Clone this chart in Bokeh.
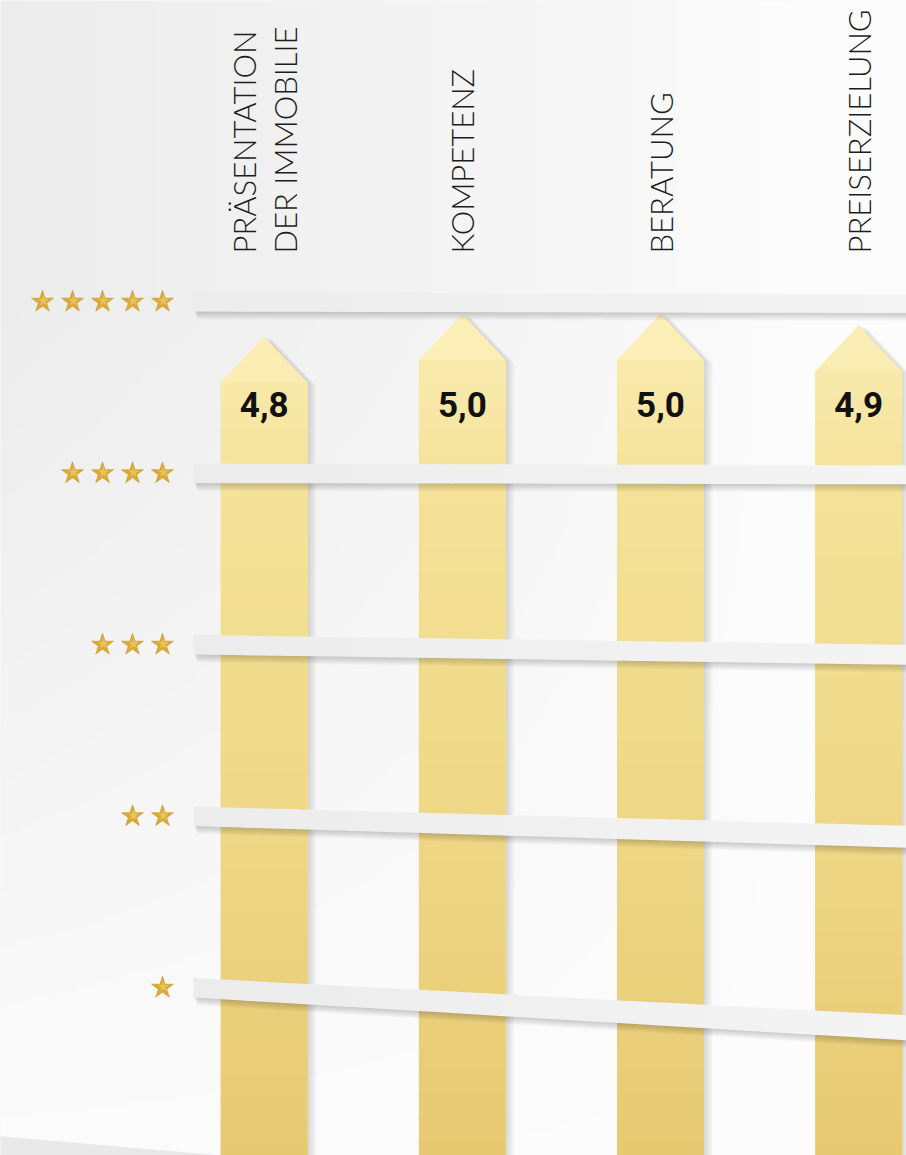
import numpy as np
from bokeh.plotting import figure
from bokeh.models import Range1d
from bokeh.core.properties import value
from bokeh.embed import file_html
from bokeh.resources import INLINE

# ---------------- data ----------------
categories = ["PRÄSENTATION\nDER IMMOBILIE", "KOMPETENZ", "BERATUNG", "PREISERZIELUNG"]
scores = [4.8, 5.0, 5.0, 4.9]
score_labels = ["4,8", "5,0", "5,0", "4,9"]
star_levels = [5, 4, 3, 2, 1]

# ---------------- layout constants (page px) ----------------
W, H = 906, 1155
PAGE = 0
X0_PX, PX_X = 263.7, 198.15     # page x of first category, px per category step
S5_PX, PX_S = 301.3, 171.5      # page y of 5-star rail, px per star level
P5_PX, PX_P = 313.5, 112.5      # page y of a 5.0 picket tip, px per score point

RAIL_LEFT_PX = 193
RAIL_TILT_PX = {5: 2.0, 4: 1.5, 3: 10.0, 2: 20.5, 1: 40.0}      # perspective drop at right edge
RAIL_THICK_L_PX = 19.5
RAIL_THICK_R_PX = {5: 18.5, 4: 19.0, 3: 20.0, 2: 22.0, 1: 25.0}
PICKET_HALF_PX = 43.5
ROOF_PX = 46


def ux(px):
    return px / PX_X


def us(px):
    return px / PX_S


def up(px):
    return px / PX_P


def x_of(X):
    return (X - X0_PX) / PX_X


def s_of(Y):
    return 5 - (Y - S5_PX) / PX_S


def pageY_of_p(v):
    return P5_PX + (5 - v) * PX_P


x_range = Range1d(x_of(PAGE), x_of(PAGE + W))
y_range = Range1d(s_of(PAGE + H), s_of(PAGE))
p_range = Range1d(5 - (PAGE + H - P5_PX) / PX_P, 5 + (P5_PX - PAGE) / PX_P)

p = figure(width=W, height=H, x_range=x_range, y_range=y_range,
           x_axis_type=None, y_axis_type=None, toolbar_location=None,
           output_backend="svg", min_border=0, outline_line_color=None,
           background_fill_color="#f3f3f3", border_fill_color="#f3f3f3")
p.extra_y_ranges = {"picket": p_range}

# ---------------- background gradient ----------------
step = 5
nx, ny = W // step + 1, H // step + 1
Xs = PAGE + (np.arange(nx) + 0.5) * step
Ys = PAGE + H - (np.arange(ny) + 0.5) * step
XX, YY = np.meshgrid(Xs, Ys)
fx = np.clip(1 - XX / 800, 0, 1) ** 0.8
fy = np.clip(1 - (YY - 300) / 900, 0, 1)
g = np.clip(np.round(252 - 16 * fx * fy), 0, 255).astype(np.uint32)
img = (np.uint32(255) << 24) | (g << 16) | (g << 8) | g
p.image_rgba(image=[img], x=x_range.start, y=y_range.start,
             dw=x_range.end - x_range.start, dh=y_range.end - y_range.start)

# floor edge, bottom left
fxs = [x_of(PAGE - 2), x_of(250), x_of(250), x_of(PAGE - 2)]
fys = [s_of(1135.5), s_of(1157.5), s_of(1170), s_of(1170)]
p.patch(fxs, fys, fill_color="#e9e9e9", line_color=None)

# ---------------- pickets ----------------
hw = ux(PICKET_HALF_PX)
roof = up(ROOF_PX)
p_bottom = p_range.start - 0.3

pk_xs, pk_ys = [], []
for i, v in enumerate(scores):
    pk_xs.append([i - hw, i - hw, i, i + hw, i + hw])
    pk_ys.append([p_bottom, v - roof, v, v - roof, p_bottom])

# soft shadow to the right
for k in range(1, 10):
    p.patches([[x + ux(k) for x in xs] for xs in pk_xs],
              [[y - up(0.35 * k) for y in ys] for ys in pk_ys],
              fill_color="black", fill_alpha=0.017, line_color=None,
              y_range_name="picket")

anchors_Y = [300, 480, 750, 1160]
anchors_c = [(251, 239, 184), (245, 226, 153), (240, 218, 138), (231, 201, 114)]


def picket_color(Y):
    r = np.interp(Y, anchors_Y, [c[0] for c in anchors_c])
    gg = np.interp(Y, anchors_Y, [c[1] for c in anchors_c])
    b = np.interp(Y, anchors_Y, [c[2] for c in anchors_c])
    return "#%02x%02x%02x" % (int(round(r)), int(round(gg)), int(round(b)))


p.patches(pk_xs, pk_ys, fill_color=[picket_color(pageY_of_p(v)) for v in scores],
          line_color=None, y_range_name="picket")

bl, br, bt, bb, bc = [], [], [], [], []
for i, v in enumerate(scores):
    edges = np.linspace(v - roof, p_bottom, 36)
    for a, b in zip(edges[:-1], edges[1:]):
        bl.append(i - hw)
        br.append(i + hw)
        bt.append(a)
        bb.append(b - up(1.2))
        bc.append(picket_color(pageY_of_p((a + b) / 2)))
p.quad(left=bl, right=br, top=bt, bottom=bb, fill_color=bc, line_color=None,
       y_range_name="picket")

# ---------------- rails ----------------
xl = x_of(RAIL_LEFT_PX)
x906 = x_of(906)
xr = x_range.end + 0.05


def rail_poly(s, x_a, x_b):
    slope = us(RAIL_TILT_PX[s]) / (x906 - xl)
    thl = us(RAIL_THICK_L_PX)
    ths = (us(RAIL_THICK_R_PX[s]) - thl) / (x906 - xl)

    def c(x):
        return s - slope * (x - xl)

    def t(x):
        return thl + ths * (x - xl)

    xs = [x_a, x_b, x_b, x_a]
    ys = [c(x_a) + t(x_a) / 2, c(x_b) + t(x_b) / 2, c(x_b) - t(x_b) / 2, c(x_a) - t(x_a) / 2]
    return xs, ys


rail_shapes = [rail_poly(s, xl, xr) for s in star_levels]
for k in range(1, 9):
    p.patches([[x + ux(0.5 * k) for x in xs] for xs, ys in rail_shapes],
              [[y - us(k) for y in ys] for xs, ys in rail_shapes],
              fill_color="black", fill_alpha=0.024, line_color=None)

nseg = 14
seg_edges = np.linspace(xl, xr, nseg + 1)
rs_xs, rs_ys, rs_c = [], [], []
for s in star_levels:
    for j in range(nseg):
        a = seg_edges[j]
        b = seg_edges[j + 1] + (ux(1) if j < nseg - 1 else 0)
        xs, ys = rail_poly(s, a, b)
        rs_xs.append(xs)
        rs_ys.append(ys)
        gv = int(round(236 + 8 * (j + 0.5) / nseg))
        rs_c.append("#%02x%02x%02x" % (gv, gv, gv))
p.patches(rs_xs, rs_ys, fill_color=rs_c, line_color=None)

# ---------------- stars ----------------
st_x, st_y = [], []
for s in star_levels:
    for k in range(s):
        st_x.append(x_of(162 - 30 * k))
        st_y.append(s)
p.scatter(st_x, st_y, marker="star", size=23, fill_color="#dcab37",
          line_color="#c8961f", line_width=0.6)
p.scatter([x + ux(1) for x in st_x], [y + us(1) for y in st_y], marker="star",
          size=11, fill_color="#f3d983", fill_alpha=0.55, line_color=None)

# ---------------- texts ----------------
lab_x, lab_y, lab_t = [], [], []
for i, c in enumerate(categories):
    lines = c.split("\n")
    n = len(lines)
    for j, ln in enumerate(lines):
        lab_x.append(i + ux((j - (n - 1) / 2) * 41))
        lab_y.append(s_of(253))
        lab_t.append(ln)
p.text(lab_x, lab_y, text=lab_t, angle=np.pi / 2, text_align="left",
       text_baseline="middle", text_font=value("'Lato Light', Lato, sans-serif"),
       text_font_size="31px", text_color="#1c1c1c")

p.text(list(range(len(scores))), [s_of(404)] * len(scores), text=score_labels,
       text_align="center", text_baseline="middle",
       text_font=value("Roboto"),
       text_font_style="bold", text_font_size="35px", text_color="#111111")

open("out.html", "w").write(file_html(p, INLINE))
